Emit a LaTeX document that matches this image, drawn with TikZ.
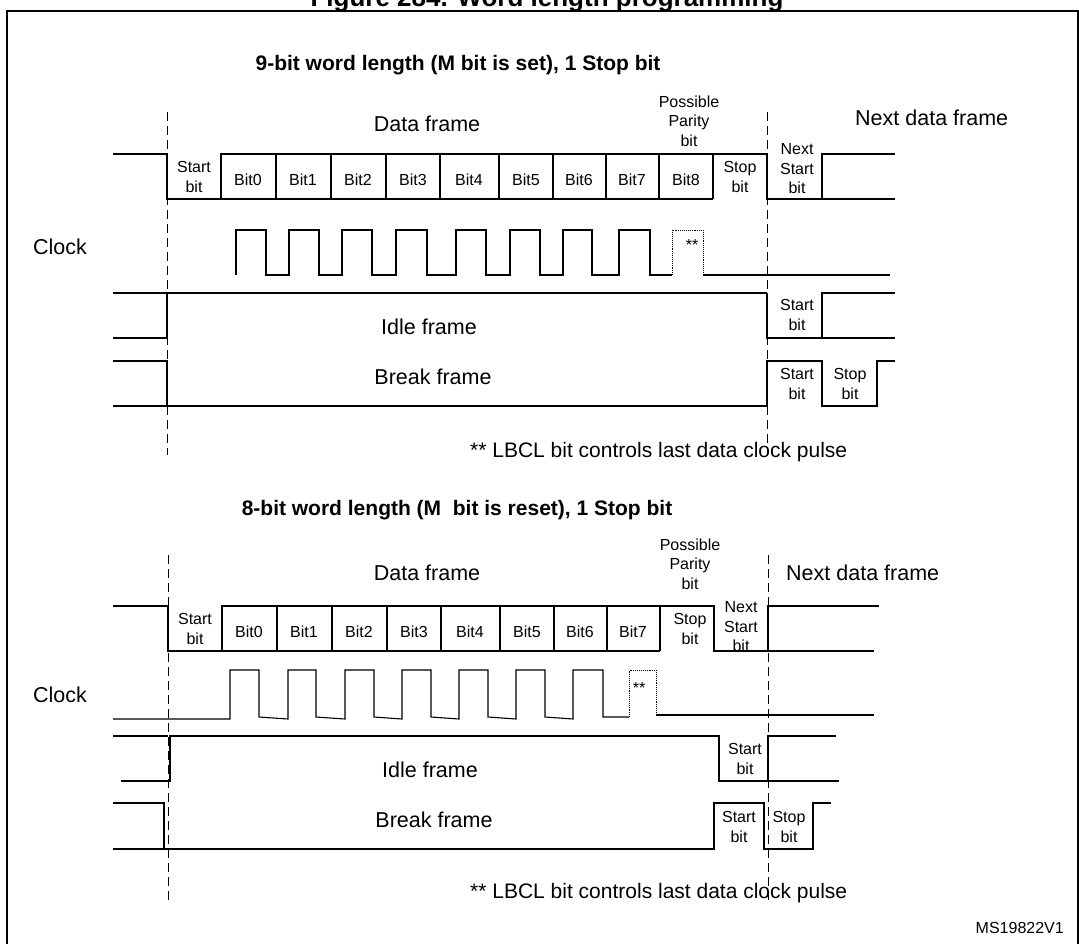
\documentclass[tikz,border=0pt]{standalone}
\usepackage{fontspec}
\setmainfont{Liberation Sans}
\usepackage{tikz}
\usetikzlibrary{positioning}

\begin{document}
\begin{tikzpicture}[x=1pt, y=-1pt,
    sig/.style={line width=1.1pt},
    clk/.style={line width=1.1pt},
    lbl/.style={inner sep=0pt, align=center, font=\fontsize{16}{19.5}\selectfont},
    big/.style={inner sep=0pt, font=\fontsize{21.5}{24}\selectfont},
    head/.style={inner sep=0pt, font=\fontsize{21}{24}\selectfont\bfseries},
    note/.style={inner sep=0pt, font=\fontsize{21}{24}\selectfont},
    guide/.style={dash pattern=on 9pt off 5pt, line width=0.8pt}
]
\useasboundingbox (0,0) rectangle (1079,943);
\clip (0,0) rectangle (1079,943);

% Frame and title
\draw[line width=1.8pt] (7,11) rectangle (1078,950);
\node[inner sep=0pt, anchor=base, font=\fontsize{26}{28}\selectfont\bfseries] (title) at (547,6) {Figure 284. Word length programming};

% ===== 9-BIT WORD LENGTH =====
\node[head] (headA) at (458,65) {9-bit word length (M bit is set), 1 Stop bit};
\draw[guide] (167,112) -- (167,455);
\draw[guide] (767,112) -- (767,455);
\node[big] (dataA) at (427,124) {Data frame};
\node[lbl] (parA) at (689,121) {Possible\\Parity\\bit};
\node[big, anchor=west] (nextA) at (855,118) {Next data frame};

% Data frame
\draw[sig] (113,154) -- (167,154) -- (167,199) -- (713,199);
\draw[sig] (221,199) -- (221,154) -- (767,154) -- (767,199) -- (822,199) -- (822,154) -- (895,154);
\draw[sig] (767,199) -- (895,199);
\foreach \x in {276,331,386,440,499,553,606,659,713} \draw[sig] (\x,154) -- (\x,199);
\node[lbl] (startA) at (194,177) {Start\\bit};
\foreach \n/\x in {0/248,1/303,2/358,3/413,4/469,5/526,6/579,7/632,8/686}
  \node[lbl] (bitA\n) at (\x,180) {Bit\n};
\node[lbl] (stopA) at (740,177) {Stop\\bit};
\node[lbl] (nstartA) at (797,169) {Next\\Start\\bit};

% Clock
\node[big] (clockA) at (60,247) {Clock};
\draw[clk] (236,275) \foreach \r/\f in {236/266,289/319,342/372,396/427,456/486,510/540,563/592,619/650} {-- (\r,275) -- (\r,230) -- (\f,230) -- (\f,275)} -- (672,275);
\draw[densely dotted, line width=0.9pt] (672,275) -- (672,230) -- (703,230) -- (703,275);
\draw[clk] (703,275) -- (890,275);
\node[lbl] (starA) at (692,245) {**};

% Idle frame
\draw[sig] (113,293) -- (767,293);
\draw[sig] (113,338) -- (167,338) -- (167,293);
\draw[sig] (767,293) -- (767,338) -- (822,338) -- (822,293) -- (895,293);
\draw[sig] (822,338) -- (895,338);
\node[big] (idleA) at (429,327) {Idle frame};
\node[lbl] (istartA) at (797,315) {Start\\bit};

% Break frame
\draw[sig] (113,361) -- (167,361) -- (167,406);
\draw[sig] (113,406) -- (767,406) -- (767,361) -- (822,361) -- (822,406) -- (877,406) -- (877,361) -- (895,361);
\node[big] (breakA) at (433,377) {Break frame};
\node[lbl] (bstartA) at (797,384) {Start\\bit};
\node[lbl] (bstopA) at (850,384) {Stop\\bit};
\node[note, anchor=west] (noteA) at (470,452) {** LBCL bit controls last data clock pulse};

% ===== 8-BIT WORD LENGTH =====
\node[head] (headB) at (457,510) {8-bit word length (M\ \ bit is reset), 1 Stop bit};
\draw[guide] (168,555) -- (168,902);
\draw[guide] (768,555) -- (768,902);
\node[big] (dataB) at (427,573) {Data frame};
\node[lbl] (parB) at (690,564) {Possible\\Parity\\bit};
\node[big, anchor=west] (nextB) at (786,573) {Next data frame};

% Data frame
\draw[sig] (113,606) -- (168,606) -- (168,651) -- (660,651);
\draw[sig] (222,651) -- (222,606) -- (714,606) -- (714,651) -- (768,651) -- (874,651);
\draw[sig] (768,651) -- (768,606) -- (879,606);
\foreach \x in {277,332,387,441,500,554,607,660} \draw[sig] (\x,606) -- (\x,651);
\node[lbl] (startB) at (195,629) {Start\\bit};
\foreach \n/\x in {0/249,1/304,2/359,3/414,4/470,5/527,6/580,7/633}
  \node[lbl] (bitB\n) at (\x,632) {Bit\n};
\node[lbl] (stopB) at (690,629) {Stop\\bit};
\node[lbl] (nstartB) at (741,627) {Next\\Start\\bit};

% Clock
\node[big] (clockB) at (60,695) {Clock};
\draw[clk] (113,719) \foreach \r/\f in {230/259,288/316,345/374,402/431,459/488,516/545,573/603} {-- (\r,719) -- (\r,670) -- (\f,670) -- (\f,717)} -- (629,717);
\draw[densely dotted, line width=0.9pt] (629,717) -- (629,670) -- (656,670) -- (656,715);
\draw[clk] (656,715) -- (874,715);
\node[lbl] (starB) at (639,688) {**};

% Idle frame
\draw[sig] (113,736) -- (168,736);
\draw[sig] (121,781) -- (170,781) -- (170,736) -- (719,736) -- (719,781) -- (768,781) -- (768,736) -- (836,736);
\draw[sig] (768,781) -- (839,781);
\node[big] (idleB) at (430,770) {Idle frame};
\node[lbl] (istartB) at (745,759) {Start\\bit};

% Break frame
\draw[sig] (113,803) -- (164,803) -- (164,849) -- (714,849) -- (714,803) -- (764,803) -- (764,849) -- (813,849) -- (813,803) -- (831,803);
\draw[sig] (168,849) -- (113,849);
\node[big] (breakB) at (434,820) {Break frame};
\node[lbl] (bstartB) at (739,827) {Start\\bit};
\node[lbl] (bstopB) at (789,827) {Stop\\bit};
\node[note, anchor=west] (noteB) at (470,893) {** LBCL bit controls last data clock pulse};

\node[inner sep=0pt, anchor=east, font=\fontsize{16}{18}\selectfont] (ref) at (1064,928) {MS19822V1};

\end{tikzpicture}
\end{document}
